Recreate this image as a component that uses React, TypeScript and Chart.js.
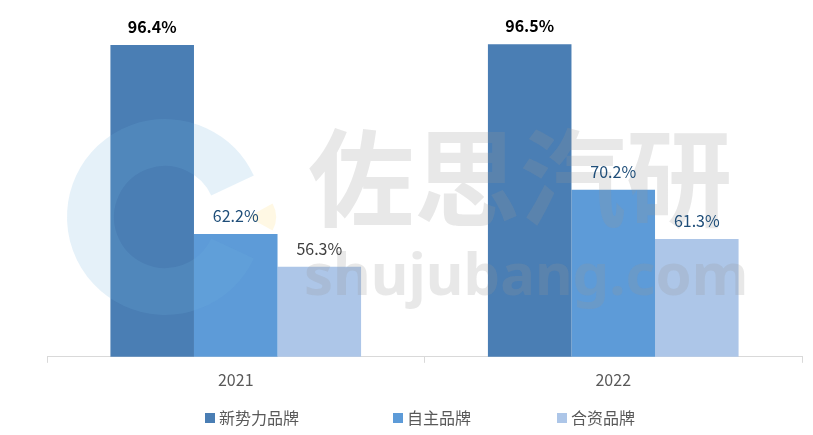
import React, { useEffect, useRef } from "react";
import { Chart, registerables } from "chart.js";

Chart.register(...registerables);

const categories = ["2021", "2022"];
const seriesNames = ["新势力品牌", "自主品牌", "合资品牌"];
const newForces = [96.4, 96.5];
const domestic = [62.2, 70.2];
const jointVenture = [56.3, 61.3];
const colors = ["#4a7eb4", "#5d9bd8", "#adc6e8"];
const labelColors = [
  ["#000000", "#000000"],
  ["#1f4e79", "#1f4e79"],
  ["#404040", "#1f4e79"],
];
const labelBold = [true, false, false];
const legendX = [205, 393, 557];

const FONT = '"Microsoft YaHei", "Noto Sans CJK SC", sans-serif';

const watermarkPlugin = {
  id: "watermark",
  afterDatasetsDraw(chart: any) {
    const ctx = chart.ctx;
    ctx.save();
    // logo C
    ctx.strokeStyle = "rgba(110, 180, 220, 0.18)";
    ctx.lineWidth = 47;
    ctx.lineCap = "butt";
    ctx.beginPath();
    const a1 = (25 * Math.PI) / 180;
    ctx.arc(165, 217, 74.5, a1, 2 * Math.PI - a1, false);
    ctx.stroke();
    ctx.fillStyle = "rgba(255, 220, 120, 0.2)";
    ctx.beginPath();
    ctx.moveTo(248, 217);
    ctx.arc(248, 217, 28, -0.5, 0.5, false);
    ctx.closePath();
    ctx.fill();
    // text
    ctx.fillStyle = "rgba(150, 150, 150, 0.22)";
    ctx.textBaseline = "middle";
    ctx.textAlign = "left";
    ctx.font = 'bold 106px "Noto Sans CJK SC", sans-serif';
    ctx.fillText("佐思汽研", 308, 178);
    ctx.textBaseline = "alphabetic";
    ctx.font = 'bold 58px "Noto Sans", "Open Sans", sans-serif';
    ctx.fillText("shujubang.com", 304, 295);
    ctx.restore();
  },
};

const labelPlugin = {
  id: "barLabels",
  afterDraw(chart: any) {
    const ctx = chart.ctx;
    ctx.save();
    ctx.textAlign = "center";
    ctx.textBaseline = "middle";
    chart.data.datasets.forEach((ds: any, di: number) => {
      const meta = chart.getDatasetMeta(di);
      meta.data.forEach((bar: any, i: number) => {
        ctx.font = (labelBold[di] ? "bold " : "") + "16px " + FONT;
        ctx.fillStyle = labelColors[di][i];
        ctx.fillText(ds.data[i].toFixed(1) + "%", bar.x, bar.y - 18);
      });
    });
    // legend
    ctx.textAlign = "left";
    ctx.font = "16px " + FONT;
    chart.data.datasets.forEach((ds: any, di: number) => {
      const x = legendX[di];
      ctx.fillStyle = colors[di];
      ctx.fillRect(x, 413, 10, 10);
      ctx.fillStyle = "#595959";
      ctx.fillText(ds.label, x + 14, 418);
    });
    ctx.restore();
  },
};

export default function App() {
  const ref = useRef<HTMLCanvasElement | null>(null);
  useEffect(() => {
    document.body.style.margin = "0";
    const chart = new Chart(ref.current as HTMLCanvasElement, {
      type: "bar",
      data: {
        labels: categories,
        datasets: [newForces, domestic, jointVenture].map((d, i) => ({
          label: seriesNames[i],
          data: d,
          backgroundColor: colors[i],
          categoryPercentage: 0.664,
          barPercentage: 1,
        })),
      },
      options: {
        animation: false,
        responsive: false,
        maintainAspectRatio: false,
        layout: { padding: { left: 47, right: 11, top: 25, bottom: 37 } },
        scales: {
          x: {
            offset: true,
            grid: {
              offset: true,
              drawOnChartArea: false,
              drawTicks: true,
              tickLength: 6,
              color: "#d9d9d9",
            },
            border: { color: "#d9d9d9" },
            ticks: {
              color: "#595959",
              font: { size: 16, family: FONT },
              padding: 8,
            },
          },
          y: {
            display: false,
            min: 40,
            max: 100,
          },
        },
        plugins: {
          legend: { display: false },
          tooltip: { enabled: false },
        },
      },
      plugins: [watermarkPlugin, labelPlugin],
    });
    return () => chart.destroy();
  }, []);
  return (
    <div style={{ width: 813, height: 435 }}>
      <canvas ref={ref} width={813} height={435} />
    </div>
  );
}
